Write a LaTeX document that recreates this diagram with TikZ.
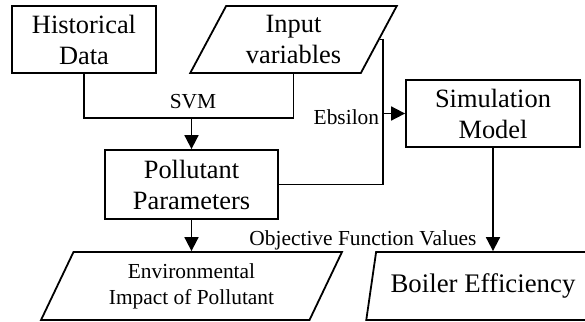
\documentclass[tikz,border=0pt]{standalone}
\usepackage{fontspec}
\setmainfont{Liberation Serif}
\usetikzlibrary{shapes.geometric,arrows.meta}

\begin{document}
\begin{tikzpicture}[x=0.5pt,y=-0.5pt,line width=0.9pt,
    block/.style={rectangle,draw,inner sep=0pt,align=center,
      font=\fontsize{13.2}{15.5}\selectfont},
    io/.style={trapezium,draw,trapezium stretches=true,inner sep=0pt,
      align=center},
    lbl/.style={inner sep=0pt,font=\fontsize{10.7}{13}\selectfont},
    arrow/.style={-{Triangle[length=7pt,width=7pt]}}]

\clip (0,0) rectangle (585,322);

\node[block,minimum width=72pt,minimum height=33.5pt] (hist) at (84,39.5) {Historical\\Data};
\node[io,trapezium left angle=62.4,trapezium right angle=117.6,
  minimum width=104pt,minimum height=33.5pt,
  font=\fontsize{13.2}{15.5}\selectfont] (input) at (293.5,39.5) {Input\\variables};
\node[block,minimum width=86.5pt,minimum height=34.5pt] (poll) at (191.5,184.5) {Pollutant\\Parameters};
\node[block,minimum width=87pt,minimum height=33.5pt] (sim) at (493,113.5) {Simulation\\Model};
\node[io,trapezium left angle=63.4,trapezium right angle=116.6,
  minimum width=150.5pt,minimum height=34pt,
  font=\fontsize{10.7}{13}\selectfont] (env) at (191.5,286) {Environmental\\Impact of Pollutant};
\node[io,trapezium left angle=71,trapezium right angle=109,
  minimum width=117pt,minimum height=34pt,
  font=\fontsize{13.4}{15.5}\selectfont] (boiler) at (483,286) {Boiler Efficiency};

% labels
\node[lbl] (svm) at (193,102) {SVM};
\node[lbl,anchor=east] (ebs) at (380,117) {Ebsilon};
\node[lbl] (obj) at (363,240) {Objective Function Values};

% connectors
\coordinate (join) at (191.5,118);
\coordinate (bend) at (383,113.5);
\draw (hist.south) |- (join) -| (input.center |- input.south);
\draw[arrow] (join) -- (poll.north);
\draw (poll.east) -| (bend) |- (input.east);
\draw[arrow] (bend) -- (sim.west);
\draw[arrow] (poll.south) -- (poll.south |- env.north);
\draw[arrow] (sim.south) -- (sim.south |- boiler.north);
\end{tikzpicture}
\end{document}
